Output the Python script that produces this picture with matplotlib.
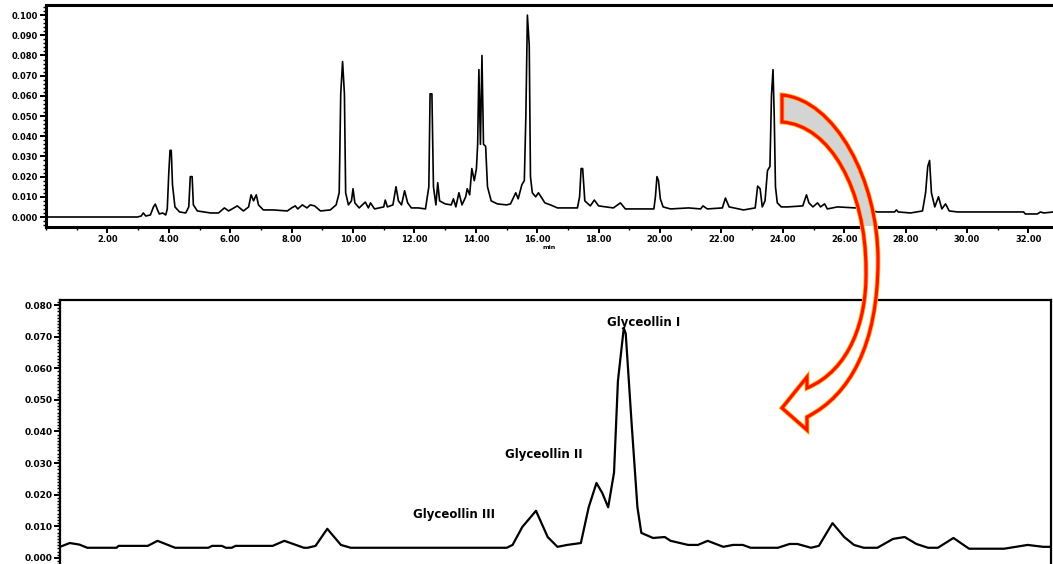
import matplotlib
matplotlib.use('Agg')
import matplotlib.pyplot as plt
from matplotlib.path import Path
from matplotlib.patches import PathPatch
from matplotlib.transforms import Bbox
from matplotlib.ticker import MultipleLocator

# full chromatogram (retention time in min, absorbance)
top_time = [
    0.0, 2.98, 3.10, 3.17, 3.25, 3.40, 3.50, 3.56, 3.62, 3.69, 3.80, 3.90,
    3.95, 4.00, 4.04, 4.08, 4.12, 4.20, 4.35, 4.55, 4.65, 4.70, 4.76, 4.80,
    4.93, 5.36, 5.62, 5.81, 5.95, 6.23, 6.43, 6.60, 6.68, 6.76, 6.85, 6.92,
    7.08, 7.40, 7.86, 8.00, 8.12, 8.20, 8.35, 8.50, 8.61, 8.75, 8.94, 9.26,
    9.45, 9.55, 9.60, 9.66, 9.72, 9.76, 9.85, 9.95, 10.00, 10.06, 10.20,
    10.40, 10.50, 10.57, 10.70, 11.00, 11.05, 11.12, 11.30, 11.40, 11.48,
    11.58, 11.68, 11.78, 11.90, 12.13, 12.36, 12.47, 12.51, 12.57, 12.62,
    12.70, 12.76, 12.82, 13.00, 13.20, 13.27, 13.35, 13.45, 13.55, 13.67,
    13.72, 13.80, 13.87, 13.95, 14.02, 14.06, 14.10, 14.15, 14.20, 14.25,
    14.32, 14.38, 14.50, 14.70, 15.00, 15.13, 15.30, 15.38, 15.50, 15.58,
    15.63, 15.68, 15.74, 15.78, 15.84, 15.95, 16.04, 16.25, 16.43, 16.66,
    17.31, 17.38, 17.43, 17.48, 17.55, 17.73, 17.86, 18.00, 18.48, 18.71,
    18.87, 19.80, 19.85, 19.90, 19.95, 20.01, 20.10, 20.34, 20.93, 21.32,
    21.40, 21.54, 22.03, 22.13, 22.25, 22.72, 23.10, 23.18, 23.26, 23.33,
    23.42, 23.50, 23.58, 23.63, 23.68, 23.72, 23.76, 23.82, 23.95, 24.15,
    24.65, 24.77, 24.85, 24.98, 25.13, 25.23, 25.36, 25.45, 25.78, 26.37,
    26.52, 26.62, 27.08, 27.64, 27.70, 27.76, 28.16, 28.55, 28.65, 28.72,
    28.78, 28.84, 28.95, 29.07, 29.18, 29.30, 29.42, 29.69, 31.84, 31.90,
    32.29, 32.39, 32.50, 32.81,
]
top_abs = [
    0.0, 0.0, 0.0005, 0.002, 0.0005, 0.001, 0.005, 0.0064, 0.004, 0.0015,
    0.002, 0.001, 0.004, 0.022, 0.033, 0.033, 0.016, 0.005, 0.0025, 0.002,
    0.005, 0.020, 0.020, 0.006, 0.003, 0.002, 0.002, 0.0045, 0.003, 0.0055,
    0.003, 0.005, 0.011, 0.008, 0.011, 0.006, 0.0035, 0.0035, 0.003, 0.0045,
    0.0055, 0.004, 0.006, 0.0045, 0.006, 0.0055, 0.003, 0.0035, 0.006, 0.012,
    0.061, 0.077, 0.061, 0.012, 0.006, 0.008, 0.014, 0.007, 0.0045, 0.0074,
    0.0045, 0.007, 0.004, 0.005, 0.0084, 0.005, 0.006, 0.015, 0.008, 0.006,
    0.013, 0.007, 0.0045, 0.0045, 0.004, 0.015, 0.061, 0.061, 0.015, 0.006,
    0.017, 0.008, 0.0065, 0.006, 0.009, 0.005, 0.012, 0.006, 0.010, 0.014,
    0.011, 0.024, 0.018, 0.024, 0.036, 0.073, 0.036, 0.080, 0.036, 0.035,
    0.015, 0.008, 0.0065, 0.006, 0.0065, 0.012, 0.009, 0.016, 0.018, 0.050,
    0.100, 0.085, 0.020, 0.012, 0.010, 0.012, 0.007, 0.006, 0.0045, 0.0045,
    0.010, 0.024, 0.024, 0.008, 0.0055, 0.0084, 0.0055, 0.0045, 0.007, 0.004,
    0.004, 0.010, 0.020, 0.018, 0.009, 0.005, 0.004, 0.0045, 0.004, 0.0055,
    0.004, 0.0045, 0.0094, 0.005, 0.0035, 0.0045, 0.0153, 0.014, 0.005,
    0.008, 0.023, 0.025, 0.060, 0.073, 0.050, 0.015, 0.007, 0.005, 0.005,
    0.0055, 0.011, 0.007, 0.005, 0.007, 0.005, 0.0065, 0.004, 0.005, 0.0045,
    0.0065, 0.004, 0.0025, 0.0025, 0.0035, 0.0025, 0.002, 0.003, 0.012,
    0.025, 0.028, 0.012, 0.005, 0.010, 0.004, 0.0065, 0.003, 0.0025, 0.0025,
    0.0015, 0.0015, 0.0025, 0.002, 0.0025,
]

# zoom on the glyceollin region
zoom_time = [
    20.81, 20.86, 20.91, 20.95, 21.10, 21.11, 21.26, 21.31, 21.40, 21.57,
    21.59, 21.64, 21.66, 21.69, 21.71, 21.90, 21.96, 22.06, 22.08, 22.12,
    22.18, 22.25, 22.30, 22.62, 23.10, 23.13, 23.18, 23.25, 23.31, 23.36,
    23.41, 23.48, 23.52, 23.56, 23.59, 23.62, 23.65, 23.67, 23.70, 23.71,
    23.74, 23.77, 23.79, 23.85, 23.91, 23.94, 24.03, 24.08, 24.13, 24.21,
    24.26, 24.31, 24.35, 24.49, 24.55, 24.59, 24.66, 24.70, 24.77, 24.83,
    24.88, 24.93, 25.00, 25.08, 25.14, 25.20, 25.26, 25.31, 25.39, 25.47,
    25.65, 25.71, 25.77, 25.85, 25.89,
]
zoom_abs = [
    0.0035, 0.0047, 0.0042, 0.0032, 0.0032, 0.0038, 0.0038, 0.0054, 0.0032,
    0.0032, 0.0038, 0.0038, 0.0032, 0.0032, 0.0038, 0.0038, 0.0054, 0.0032,
    0.0032, 0.0038, 0.0092, 0.0041, 0.0032, 0.0032, 0.0032, 0.0041, 0.0098,
    0.0149, 0.0066, 0.0035, 0.0041, 0.0047, 0.016, 0.0237, 0.0205, 0.016,
    0.027, 0.056, 0.0727, 0.071, 0.0427, 0.016, 0.0079, 0.0063, 0.0066,
    0.0054, 0.0041, 0.0041, 0.0054, 0.0035, 0.0041, 0.0041, 0.0032, 0.0032,
    0.0044, 0.0044, 0.0032, 0.0038, 0.011, 0.0066, 0.0041, 0.0032, 0.0032,
    0.006, 0.0066, 0.0044, 0.0032, 0.0032, 0.0063, 0.0029, 0.0029, 0.0035,
    0.0041, 0.0035, 0.0035,
]

top_xticks = [2, 4, 6, 8, 10, 12, 14, 16, 18, 20, 22, 24, 26, 28, 30, 32]
top_yticks = [0.0, 0.01, 0.02, 0.03, 0.04, 0.05, 0.06, 0.07, 0.08, 0.09, 0.10]
zoom_yticks = [0.0, 0.01, 0.02, 0.03, 0.04, 0.05, 0.06, 0.07, 0.08]
peak_names = ['Glyceollin I', 'Glyceollin II', 'Glyceollin III']

W, H = 1053, 564


def style_axes(ax, lw):
    for side in ['left', 'top', 'bottom']:
        ax.spines[side].set_linewidth(lw)
    ax.tick_params(which='major', direction='out', length=4, width=1.4,
                   pad=1.5)
    ax.tick_params(which='minor', direction='out', length=2.2, width=1.0)


def main():
    fig = plt.figure(figsize=(W / 100, H / 100), dpi=100)

    # top: whole run
    ax1 = fig.add_axes([46 / W, 1 - 227 / H, (W - 46) / W, 222 / H])
    ax1.plot(top_time, top_abs, color='black', lw=1.2)
    ax1.set_xlim(0, 32.8)
    ax1.set_ylim(-0.00495, 0.105)
    ax1.spines['right'].set_visible(False)
    style_axes(ax1, 2.2)
    ax1.set_xticks(top_xticks, ['%.2f' % t for t in top_xticks],
                   fontsize=6, fontweight='bold')
    ax1.set_yticks(top_yticks, ['%.3f' % v for v in top_yticks],
                   fontsize=6, fontweight='bold')
    ax1.xaxis.set_minor_locator(MultipleLocator(1))
    ax1.yaxis.set_minor_locator(MultipleLocator(0.002))
    ax1.set_xlabel('min', fontsize=4.5, fontweight='bold', labelpad=1)

    # bottom: zoom on glyceollins (x axis cut off at the bottom)
    ax2 = fig.add_axes([60 / W, (H - 574) / H, 991 / W, 274 / H])
    ax2.plot(zoom_time, zoom_abs, color='black', lw=1.6)
    ax2.set_xlim(20.81, 25.89)
    ax2.set_ylim(-0.0051, 0.0816)
    style_axes(ax2, 1.6)
    ax2.spines['right'].set_linewidth(1.6)
    ax2.set_xticks([])
    ax2.set_yticks(zoom_yticks, ['%.3f' % v for v in zoom_yticks],
                   fontsize=6.5, fontweight='bold')
    ax2.yaxis.set_minor_locator(MultipleLocator(0.001))

    label_pos = [(23.80, 0.0746), (23.29, 0.0326), (22.83, 0.0136)]
    for name, (x, y) in zip(peak_names, label_pos):
        ax2.text(x, y, name, ha='center', va='center', fontsize=8.5,
                 fontweight='bold')

    # curved red arrow from the top peak down to the zoom
    verts = [
        (782, 95),
        (835, 100), (878, 180), (878, 260),
        (878, 345), (850, 395), (807, 417),
        (807, 430),
        (782, 408),
        (807, 377),
        (807, 388),
        (850, 370), (867, 320), (866, 270),
        (866, 190), (830, 125), (782, 122),
        (782, 95),
    ]
    codes = ([Path.MOVETO] + [Path.CURVE4] * 6 + [Path.LINETO] * 4
             + [Path.CURVE4] * 6 + [Path.CLOSEPOLY])
    verts = [(x / W, 1 - y / H) for x, y in verts]
    arrow = Path(verts, codes)

    fig.add_artist(PathPatch(arrow, facecolor='white', edgecolor='none',
                             transform=fig.transFigure, zorder=10))
    gray = PathPatch(arrow, facecolor='#d4d4d4', edgecolor='none',
                     transform=fig.transFigure, zorder=11)
    fig.add_artist(gray)
    gray.set_clip_box(Bbox.from_extents(0, H - 226, W, H))
    fig.add_artist(PathPatch(arrow, facecolor='none', edgecolor='#ffb000',
                             lw=3.4, transform=fig.transFigure, zorder=12,
                             joinstyle='miter'))
    fig.add_artist(PathPatch(arrow, facecolor='none', edgecolor='#ff1000',
                             lw=2.2, transform=fig.transFigure, zorder=13,
                             joinstyle='miter'))

    fig.savefig('out.png', dpi=100)


if __name__ == '__main__':
    main()
